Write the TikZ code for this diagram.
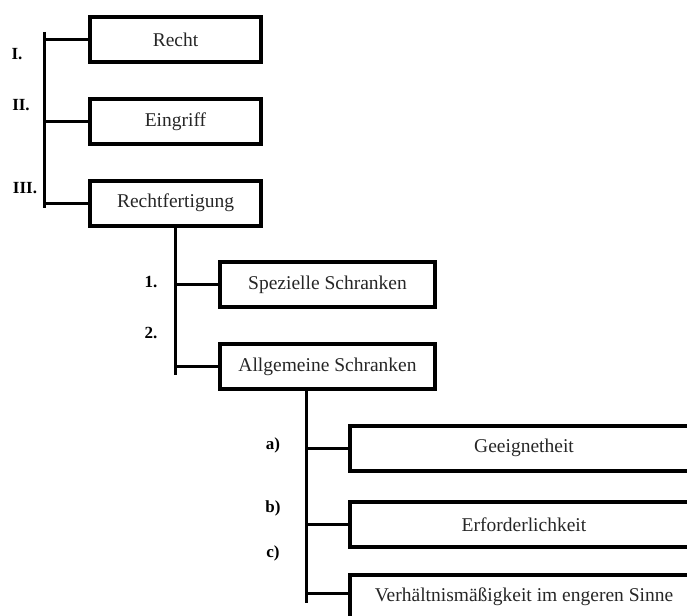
\documentclass[tikz,border=0pt]{standalone}
\usepackage{fontspec}
\setmainfont{Liberation Serif}
\usetikzlibrary{positioning,calc}

\begin{document}
\begin{tikzpicture}[x=1pt,y=-1pt,
  box/.style={draw, line width=4pt, inner sep=0pt, minimum height=45pt,
    font=\fontsize{19.5}{23}\selectfont, text=black!85},
  lbl/.style={font=\fontsize{17}{20}\selectfont\bfseries},
  conn/.style={line width=3pt}
]
  \useasboundingbox (0,0) rectangle (687,615);
  \clip (0,0) rectangle (687,615);

  % first level
  \node[box, minimum width=171pt] (recht) at (175.5,39.5) {Recht};
  \node[box, minimum width=171pt] (eingriff) at (175.5,121.5) {Eingriff};
  \node[box, minimum width=171pt] (rf) at (175.5,203) {Rechtfertigung};

  \node[lbl] (l1) at (17,54) {I.};
  \node[lbl] (l2) at (21,105) {II.};
  \node[lbl] (l3) at (25,188) {III.};

  \coordinate (b1t) at (44,32);
  \coordinate (b1b) at (44,208);
  \draw[conn] (b1t) -- (b1b);
  \foreach \n in {recht,eingriff,rf}
    \draw[conn] (b1t |- \n.west) -- (\n.west);

  % second level
  \node[box, minimum width=215pt] (spez) at (327.5,284.5) {Spezielle Schranken};
  \node[box, minimum width=215pt] (allg) at (327.5,366.5) {Allgemeine Schranken};

  \node[lbl] (n1) at (151,282) {1.};
  \node[lbl] (n2) at (151,333) {2.};

  \coordinate (b2) at (175,375);
  \draw[conn] (b2 |- rf.south) -- (b2);
  \foreach \n in {spez,allg}
    \draw[conn] (b2 |- \n.west) -- (\n.west);

  % third level, boxes run past the right and bottom edge
  \node[box, minimum width=348pt] (geeig) at (524,448) {Geeignetheit};
  \node[box, minimum width=348pt] (erf) at (524,524.5) {Erforderlichkeit};
  \node[box, minimum width=348pt] (verh) at (524,597) {Verhältnismäßigkeit im engeren Sinne};

  \node[lbl] (ta) at (273,445) {a)};
  \node[lbl] (tb) at (273,508) {b)};
  \node[lbl] (tc) at (273,553) {c)};

  \coordinate (b3) at (306,603);
  \draw[conn] (b3 |- allg.south) -- (b3);
  \foreach \n in {geeig,erf}
    \draw[conn] (b3 |- \n.west) -- (\n.west);
  \draw[conn] (b3 |- 0,593) -- (verh.west |- 0,593);
\end{tikzpicture}
\end{document}
